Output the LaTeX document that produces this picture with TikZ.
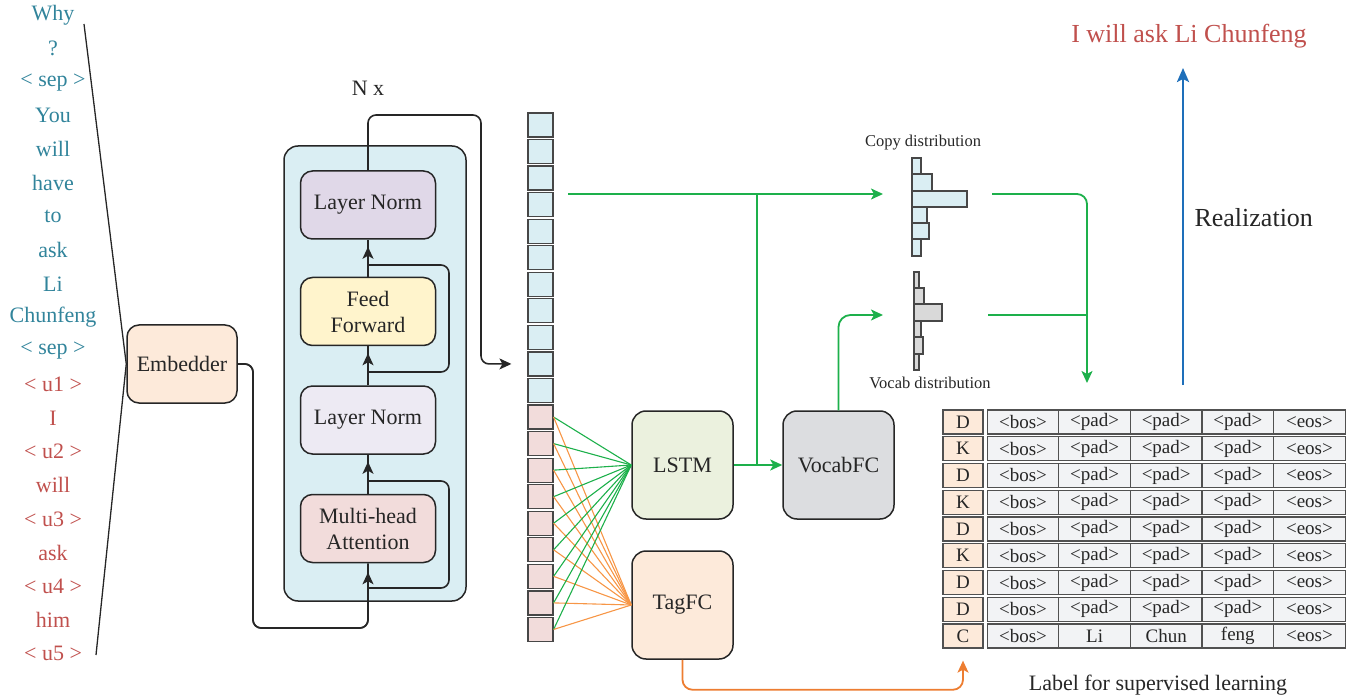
\documentclass[tikz,border=0pt]{standalone}
\usepackage{fontspec}
\setmainfont{Liberation Serif}
\usetikzlibrary{arrows.meta,calc}
\definecolor{ink}{HTML}{262626}
\definecolor{tok-teal}{HTML}{31849B}
\definecolor{tok-red}{HTML}{C0504D}
\definecolor{enc-fill}{HTML}{DAEEF3}
\definecolor{lnt-fill}{HTML}{E0D8E8}
\definecolor{ff-fill}{HTML}{FFF4CC}
\definecolor{lnm-fill}{HTML}{EDEAF3}
\definecolor{mha-fill}{HTML}{F2DCDB}
\definecolor{peach}{HTML}{FDEADA}
\definecolor{lstm-fill}{HTML}{EBF1DE}
\definecolor{vocab-fill}{HTML}{DCDDE0}
\definecolor{hist-gray}{HTML}{D9D9D9}
\definecolor{tab-fill}{HTML}{F2F3F5}
\definecolor{arr-green}{HTML}{1DB04B}
\definecolor{fan-orange}{HTML}{F79646}
\definecolor{arr-orange}{HTML}{ED7D31}
\definecolor{arr-blue}{HTML}{1E6FBA}
\tikzset{
    big-font/.style = {font=\fontsize{22}{26}\selectfont},
    round-box/.style = {draw=ink, text=ink, line width=1.5pt, rectangle, rounded corners=12pt, align=center, big-font},
    layer-box/.style = {round-box, minimum width=135pt, minimum height=68pt},
    module-box/.style = {round-box, rounded corners=14pt, minimum width=101pt, minimum height=108pt},
    vec-cell/.style = {draw=ink!85, line width=1.2pt, rectangle, minimum width=25pt, minimum height=24pt, inner sep=0pt},
    tab-cell/.style = {draw=ink!80, line width=1.3pt, rectangle, fill=tab-fill, minimum width=71.6pt, minimum height=24pt, inner sep=0pt, text=ink, font=\fontsize{19}{22}\selectfont},
    tag-cell/.style = {tab-cell, fill=peach, minimum width=40pt},
    line/.style = {draw=ink, line width=1.6pt},
    arr/.style = {-{Stealth[length=12pt,width=11pt,inset=3pt]}},
    g-line/.style = {draw=arr-green, line width=1.8pt},
    small-font/.style = {font=\fontsize{16.5}{19}\selectfont, text=ink},
}
\begin{document}
\begin{tikzpicture}[x=1pt, y=-1pt]
\useasboundingbox (0,0) rectangle (1357,700);

\foreach \t [count=\k from 0] in {Why, ?, < sep >, You, will, have, to, ask, Li, Chunfeng, < sep >}
    \node[big-font, text=tok-teal] (tok-\k) at (53, 15+33.6*\k) {\t};
\foreach \t [count=\k from 11] in {< u1 >, I, < u2 >, will, < u3 >, ask, < u4 >, him, < u5 >}
    \node[big-font, text=tok-red] (tok-\k) at (53, 15+33.6*\k) {\t};

\node[round-box, fill=peach, minimum width=110pt, minimum height=78pt] (emb) at (182,364) {Embedder};
\coordinate (fan-top) at (84,24);
\coordinate (fan-bot) at (96,655);
\draw[line, line width=1.3pt] (fan-top) -- (emb.west) -- (fan-bot);

\node[round-box, fill=enc-fill, rounded corners=14pt, minimum width=182pt, minimum height=455pt] (enc) at (375,373.5) {};
\node[layer-box, fill=lnt-fill] (ln-top) at (368,205) {Layer Norm};
\node[layer-box, fill=ff-fill] (ff) at (368,311.5) {Feed\\Forward};
\node[layer-box, fill=lnm-fill] (ln-mid) at (368,420) {Layer Norm};
\node[layer-box, fill=mha-fill] (mha) at (368,528.5) {Multi-head\\Attention};
\node[big-font, text=ink] (nx) at (368,88) {N x};

\draw[line, rounded corners=8pt] (emb.east) -| (253,628) -| (mha.south);
\draw[line, arr, shorten >=9pt, rounded corners=8pt] (emb.east) -| (253,628) -| (mha.south);
\foreach \a/\b in {mha/ln-mid, ln-mid/ff, ff/ln-top} {
    \draw[line] (\a.north) -- (\b.south);
    \draw[line, arr, shorten >=7pt] (\a.north) -- (\b.south);
}
\draw[line, rounded corners=8pt] (368,588) -- (449,588) -- (449,481) -- (368,481);
\draw[line, rounded corners=8pt] (368,372) -- (449,372) -- (449,265) -- (368,265);

\foreach \i in {0,...,10}
    \node[vec-cell, fill=enc-fill] (cell-\i) at (540.5, 125+26.55*\i) {};
\foreach \i in {11,...,19}
    \node[vec-cell, fill=mha-fill] (cell-\i) at (540.5, 125+26.55*\i) {};
\draw[line, arr, rounded corners=8pt] (ln-top.north) |- (481,115) |- ([xshift=-16pt]cell-9.west);

\node[module-box, fill=lstm-fill] (lstm) at (682.5,465) {LSTM};
\node[module-box, fill=vocab-fill, minimum width=111pt] (vocab) at (838.5,465) {VocabFC};
\node[module-box, fill=peach] (tagfc) at (682.5,605) {TagFC};
\foreach \i in {11,...,19} {
    \draw[draw=arr-green, line width=1.1pt] (cell-\i.east) -- (lstm.west);
    \draw[draw=fan-orange, line width=1.1pt] (cell-\i.east) -- (tagfc.west);
}

\coordinate (col-out) at (568,194);
\coordinate (copy-in) at (883,194);
\coordinate (split) at (757,194);
\coordinate (vocab-in) at (883,315);
\draw[g-line, arr] (col-out) -- (copy-in);
\draw[g-line] (split) -- (split |- lstm.east);
\draw[g-line, arr] (lstm.east) -- (vocab.west);
\draw[g-line, arr, rounded corners=12pt] (vocab.north) |- (vocab-in);

\foreach \ya/\yb/\xr in {158/174/921, 174/191/932, 191/207/967, 207/223/927, 223/239/929, 239/256/921}
    \draw[draw=ink!85, line width=1.2pt, fill=enc-fill] (912,\ya) rectangle (\xr,\yb);
\foreach \ya/\yb/\xr in {272/288/919, 288/304/924, 304/321/942, 321/337/921, 337/354/923, 354/370/919}
    \draw[draw=ink!85, line width=1.2pt, fill=hist-gray] (914,\ya) rectangle (\xr,\yb);
\node[small-font] (copy-lbl) at (923,143) {Copy distribution};
\node[small-font] (vocab-lbl) at (930,383) {Vocab distribution};

\coordinate (copy-out) at (992,194);
\coordinate (vocab-out) at (988,315);
\coordinate (mix-end) at (1087,383);
\draw[g-line, arr, rounded corners=10pt] (copy-out) -| (mix-end);
\draw[g-line] (vocab-out) -- (vocab-out -| mix-end);

\node[font=\fontsize{26}{30}\selectfont, text=tok-red] (result) at (1189,36) {I will ask Li Chunfeng};
\coordinate (real-start) at (1183,385);
\coordinate (real-end) at (1183,68);
\draw[draw=arr-blue, line width=2.6pt, -{Stealth[length=14pt,width=12pt,inset=3pt]}] (real-start) -- (real-end);
\node[font=\fontsize{26}{30}\selectfont, text=ink, anchor=west] (real-lbl) at (1191,218) {Realization};

\foreach \l [count=\r from 0] in {D,K,D,K,D,K,D,D,C}
    \node[tag-cell] (lab-\r) at (963, 422+26.75*\r) {\l};
\foreach \r in {0,...,7}
    \foreach \w [count=\c from 0] in {<bos>,<pad>,<pad>,<pad>,<eos>}
        \node[tab-cell] (tab-\r-\c) at (1023+71.6*\c, 422+26.75*\r) {\w};
\foreach \w [count=\c from 0] in {<bos>,Li,Chun,feng,<eos>}
    \node[tab-cell] (tab-8-\c) at (1023+71.6*\c, 636) {\w};
\node[big-font, text=ink] (tab-lbl) at (1158,685) {Label for supervised learning};

\draw[draw=arr-orange, line width=1.8pt, arr, shorten >=12pt, rounded corners=10pt] (tagfc.south) -- ++(0,30) -| (lab-8.south);
\end{tikzpicture}
\end{document}
